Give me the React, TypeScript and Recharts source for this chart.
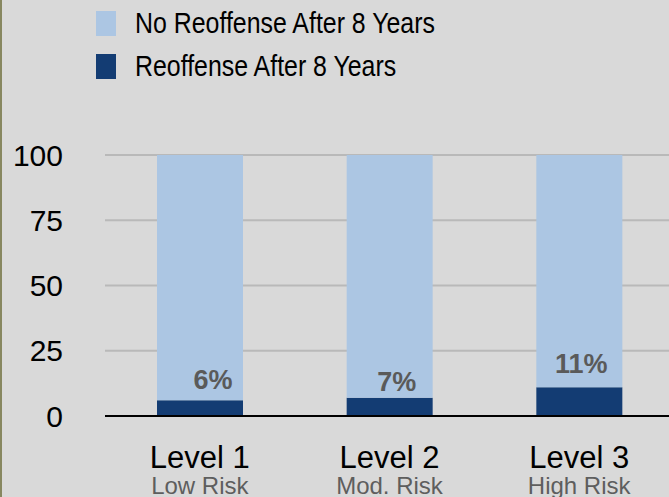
import { BarChart, Bar, XAxis, YAxis, CartesianGrid, Legend, LabelList } from 'recharts';

const levels = ['Level 1', 'Level 2', 'Level 3'];
const riskLabels = ['Low Risk', 'Mod. Risk', 'High Risk'];
const reoffense = [6, 7, 11];
const noReoffense = [94, 93, 89];
const yTicks = [0, 25, 50, 75, 100];

const data = levels.map((level, i) => ({
  level,
  risk: riskLabels[i],
  reoffense: reoffense[i],
  noReoffense: noReoffense[i],
}));

const FONT = '"Liberation Sans", Arial, Helvetica, sans-serif';

function LevelTick({ x, y, payload }: any) {
  const i = payload.index;
  return (
    <g>
      <text x={x} y={y + 52} textAnchor="middle" fontSize={31} fontFamily={FONT} fill="#000">
        {payload.value}
      </text>
      <text x={x} y={y + 78} textAnchor="middle" fontSize={24} fontFamily={FONT} fill="#5e5e5e">
        {riskLabels[i]}
      </text>
    </g>
  );
}

// small nudges so each percentage sits where it does in the original
const labelShift = [
  { dx: 13, dy: -11 },
  { dx: 7, dy: -7 },
  { dx: 2, dy: -14 },
];

function PctLabel({ x, y, width, value, index }: any) {
  const s = labelShift[index] || { dx: 0, dy: -10 };
  return (
    <text
      x={x + width / 2 + s.dx}
      y={y + s.dy}
      textAnchor="middle"
      fontSize={27}
      fontWeight="bold"
      fontFamily={FONT}
      fill="#5a5a5a"
    >
      {value}%
    </text>
  );
}

function LegendBox({ payload }: any) {
  const order = ['No Reoffense After 8 Years', 'Reoffense After 8 Years'];
  const items = [...(payload || [])].sort((a: any, b: any) => order.indexOf(a.value) - order.indexOf(b.value));
  return (
    <div style={{ position: 'relative', height: 100, width: 669 }}>
      {items.map((item: any, i: number) => (
        <div key={item.value} style={{ position: 'absolute', left: 96, top: 11 + i * 43, height: 25 }}>
          <div style={{ position: 'absolute', left: 0, top: 0, width: 20, height: 25, background: item.color }} />
          <span
            style={{
              position: 'absolute',
              left: 39,
              top: -6,
              whiteSpace: 'nowrap',
              fontFamily: FONT,
              fontSize: 30,
              lineHeight: '36px',
              color: '#000',
              display: 'inline-block',
              transform: 'scaleX(0.83)',
              transformOrigin: 'left center',
            }}
          >
            {item.value}
          </span>
        </div>
      ))}
    </div>
  );
}

export default function App() {
  return (
    <div
      style={{
        position: 'absolute',
        left: 0,
        top: 0,
        width: 669,
        height: 497,
        overflow: 'hidden',
        background: '#d9d9d9',
      }}
    >
      <div style={{ position: 'absolute', left: 0, top: 0, width: 2, height: 497, background: '#878760', zIndex: 2 }} />
      <BarChart
        width={675}
        height={500}
        data={data}
        margin={{ top: 55, right: 1, left: 0, bottom: 0 }}
      >
        <CartesianGrid horizontal vertical={false} stroke="#b9b9b9" strokeWidth={2} />
        <XAxis
          dataKey="level"
          height={84}
          axisLine={{ stroke: '#000', strokeWidth: 2 }}
          tickLine={false}
          tickSize={0}
          tickMargin={0}
          tick={<LevelTick />}
          interval={0}
        />
        <YAxis
          width={105}
          domain={[0, 100]}
          ticks={yTicks}
          axisLine={false}
          tickLine={false}
          tickSize={0}
          tickMargin={42}
          tick={{ fontSize: 30, fill: '#000', fontFamily: FONT }}
        />
        <Legend
          verticalAlign="top"
          align="left"
          layout="horizontal"
          height={100}
          wrapperStyle={{ top: 0, left: 0, width: 669, height: 100 }}
          content={<LegendBox />}
        />
        <Bar
          dataKey="reoffense"
          name="Reoffense After 8 Years"
          stackId="a"
          fill="#133c73"
          barSize={86}
          isAnimationActive={false}
        >
          <LabelList dataKey="reoffense" content={<PctLabel />} />
        </Bar>
        <Bar
          dataKey="noReoffense"
          name="No Reoffense After 8 Years"
          stackId="a"
          fill="#acc6e3"
          barSize={86}
          isAnimationActive={false}
        />
      </BarChart>
    </div>
  );
}
